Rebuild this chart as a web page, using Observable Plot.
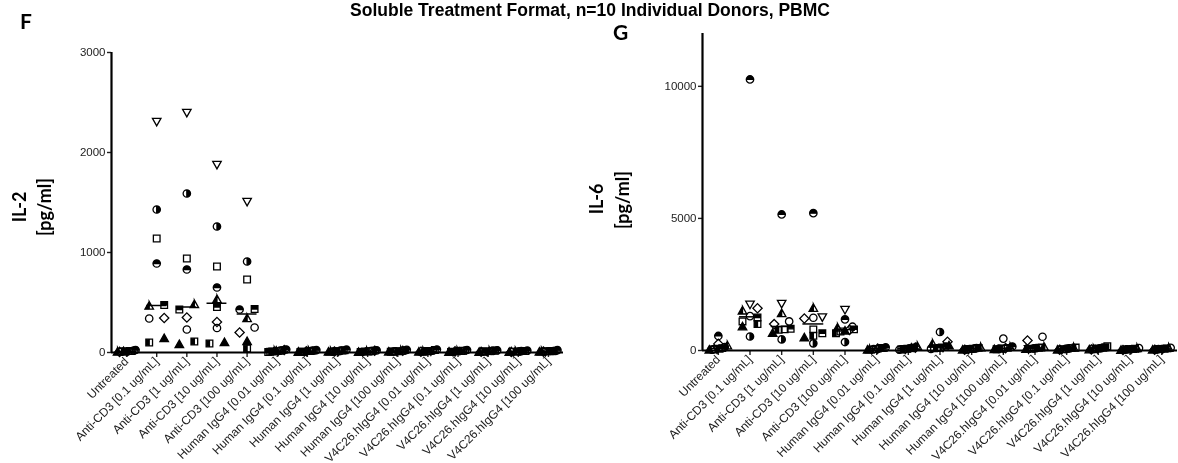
<!DOCTYPE html>
<html><head><meta charset="utf-8">
<script src="https://cdn.jsdelivr.net/npm/d3@7"></script>
<script src="https://cdn.jsdelivr.net/npm/@observablehq/plot@0.6"></script>
<style>
body{margin:0;background:#fff;}
#wrap{position:relative;width:1178px;height:463px;overflow:hidden;background:#fff;}
#wrap svg{position:absolute;top:0;will-change:transform;}
</style></head><body><div id="wrap"></div>
<script>
const title = "Soluble Treatment Format, n=10 Individual Donors, PBMC";
const categories = ["Untreated","Anti-CD3 [0.1 ug/mL]","Anti-CD3 [1 ug/mL]","Anti-CD3 [10 ug/mL]","Anti-CD3 [100 ug/mL]",
  "Human IgG4 [0.01 ug/mL]","Human IgG4 [0.1 ug/mL]","Human IgG4 [1 ug/mL]","Human IgG4 [10 ug/mL]","Human IgG4 [100 ug/mL]",
  "V4C26.hIgG4 [0.01 ug/mL]","V4C26.hIgG4 [0.1 ug/mL]","V4C26.hIgG4 [1 ug/mL]","V4C26.hIgG4 [10 ug/mL]","V4C26.hIgG4 [100 ug/mL]"];
const donors = ["Donor 1","Donor 2","Donor 3","Donor 4","Donor 5","Donor 6","Donor 7","Donor 8","Donor 9","Donor 10"];
// IL-2 [pg/ml], one row per category, one value per donor
const il2 = [
  [12, 8, 15, 25, 5, 10, 18, 6, 14, 9],
  [2310, 1430, 1140, 890, 465, 475, 340, 345, 100, 140],
  [2400, 1590, 940, 830, 480, 430, 230, 350, 110, 80],
  [1880, 1260, 860, 650, 530, 455, 245, 305, 90, 100],
  [1510, 910, 730, 430, 340, 435, 250, 200, 40, 110],
  [15, 22, 8, 30, 12, 5, 18, 25, 10, 14],
  [10, 18, 6, 24, 14, 8, 20, 12, 16, 4],
  [14, 9, 20, 28, 7, 12, 16, 10, 22, 5],
  [8, 16, 12, 22, 10, 6, 14, 18, 9, 3],
  [12, 20, 9, 26, 15, 7, 11, 17, 13, 6],
  [16, 11, 24, 30, 9, 14, 19, 8, 12, 5],
  [9, 14, 18, 25, 12, 6, 20, 11, 15, 4],
  [11, 17, 8, 21, 13, 10, 15, 7, 19, 3],
  [7, 12, 15, 19, 9, 11, 13, 6, 16, 2],
  [10, 15, 12, 23, 8, 13, 17, 9, 14, 5]
];
// IL-6 [pg/ml]
const il6 = [
  [60, 130, 40, 550, 180, 90, 30, 250, 70, 20],
  [1750, 530, 1100, 10260, 1500, 1250, 1300, 1600, 1000, 900],
  [1780, 420, 800, 5150, 1400, 820, 1100, 1000, 780, 650],
  [1270, 270, 800, 5200, 1600, 650, 1240, 1210, 560, 480],
  [1550, 320, 720, 1180, 850, 800, 900, 780, 650, 740],
  [40, 80, 60, 120, 30, 90, 50, 70, 100, 20],
  [60, 100, 40, 80, 150, 70, 30, 110, 50, 90],
  [120, 700, 80, 150, 250, 100, 60, 330, 90, 180],
  [50, 90, 70, 40, 110, 60, 80, 30, 100, 20],
  [80, 60, 100, 150, 120, 50, 450, 90, 70, 40],
  [60, 90, 110, 80, 130, 70, 520, 380, 100, 50],
  [40, 70, 90, 60, 100, 50, 80, 30, 110, 20],
  [70, 60, 160, 90, 50, 120, 80, 40, 100, 30],
  [50, 40, 70, 30, 80, 60, 90, 20, 45, 10],
  [60, 50, 80, 40, 90, 70, 100, 30, 55, 20]
];
const il2Ticks = [0, 1000, 2000, 3000];
const il6Ticks = [0, 5000, 10000];

// ---- custom Prism-like symbols (outer shape + opposite-wound hole for half fills)
const TAU = 2 * Math.PI;
const circ = (c, r) => { c.moveTo(r, 0); c.arc(0, 0, r, 0, TAU); c.closePath(); };
const sq = (c, h) => { c.moveTo(-h, -h); c.lineTo(h, -h); c.lineTo(h, h); c.lineTo(-h, h); c.closePath(); };
const triUp = (c, r) => { c.moveTo(0, -1.2 * r); c.lineTo(1.15 * r, 0.85 * r); c.lineTo(-1.15 * r, 0.85 * r); c.closePath(); };
const rad = (size) => Math.sqrt(size / Math.PI);
const symbolObjs = [
  {draw(c, s) { const r = rad(s); c.moveTo(-1.15 * r, -0.85 * r); c.lineTo(1.15 * r, -0.85 * r); c.lineTo(0, 1.2 * r); c.closePath(); }}, // open triangle down
  {draw(c, s) { const r = rad(s); circ(c, r); c.moveTo(0, -r); c.arc(0, 0, r, -Math.PI / 2, -3 * Math.PI / 2, true); c.closePath(); }}, // circle, right half filled
  {draw(c, s) { const r = rad(s); sq(c, 0.9 * r); }}, // open square
  {draw(c, s) { const r = rad(s); circ(c, r); c.moveTo(-r, 0); c.arc(0, 0, r, Math.PI, 0, true); c.closePath(); }}, // circle, top half filled
  {draw(c, s) { const r = rad(s); triUp(c, r); c.moveTo(0, -1.2 * r); c.lineTo(0, 0.85 * r); c.lineTo(1.15 * r, 0.85 * r); c.closePath(); }}, // triangle, left half filled
  {draw(c, s) { const r = rad(s), h = 0.9 * r; sq(c, h); c.moveTo(-h, 0); c.lineTo(-h, h); c.lineTo(h, h); c.lineTo(h, 0); c.closePath(); }}, // square, top half filled
  {draw(c, s) { const r = rad(s); circ(c, r); }}, // open circle
  {draw(c, s) { const r = rad(s) * 1.25; c.moveTo(0, -r); c.lineTo(r, 0); c.lineTo(0, r); c.lineTo(-r, 0); c.closePath(); }}, // open diamond
  {draw(c, s) { const r = rad(s), h = 0.9 * r; sq(c, h); c.moveTo(0, -h); c.lineTo(0, h); c.lineTo(h, h); c.lineTo(h, -h); c.closePath(); }}, // square, left half filled
  {draw(c, s) { const r = rad(s); triUp(c, r); }} // filled triangle
];
const donorFill = ["none", "black", "none", "black", "black", "black", "none", "none", "black", "black"];

// ---- column-scatter layout: points in the same "row" are spread symmetrically
const ROW_PX = 5, SPAN_PX = 18, GAP_PX = 15;
function swarm(values, pxPerUnit) {
  const idx = d3.range(values.length).sort((a, b) => values[a] - values[b]);
  const rows = []; let cur = null;
  for (const i of idx) {
    const ypx = values[i] * pxPerUnit;
    if (!cur || ypx - cur.start > ROW_PX) { cur = {start: ypx, items: []}; rows.push(cur); }
    cur.items.push(i);
  }
  const off = new Array(values.length).fill(0);
  for (const r of rows) {
    const n = r.items.length;
    const step = n > 1 ? Math.min(GAP_PX, SPAN_PX / (n - 1)) : 0;
    r.items.forEach((i, k) => off[i] = (k - (n - 1) / 2) * step);
  }
  return off;
}

function panel({values, yMax, yTicks, width, marginLeft, marginRight, marginTop, marginBottom, height}) {
  const innerH = height - marginTop - marginBottom;
  const innerW = width - marginLeft - marginRight;
  const n = categories.length;
  const bw = innerW / n;
  const xDomain = [-0.5, n - 0.5];
  const points = [];
  const medians = [];
  values.forEach((vals, ci) => {
    const off = swarm(vals, innerH / yMax);
    vals.forEach((v, di) => points.push({cat: ci, donor: donors[di], value: v, x: ci + off[di] / bw, fill: donorFill[di]}));
    medians.push({cat: ci, median: d3.median(vals)});
  });
  return Plot.plot({
    width, height, marginLeft, marginRight, marginTop, marginBottom,
    style: {fontFamily: "'Liberation Sans', Arial, sans-serif", background: "transparent", color: "#222", overflow: "visible"},
    x: {domain: xDomain},
    y: {domain: [0, yMax]},
    symbol: {domain: donors, range: symbolObjs},
    color: {type: "identity"},
    marks: [
      Plot.axisY({ticks: yTicks, tickFormat: d => String(d), tickSize: 4, tickPadding: 2, fontSize: 11.5, strokeWidth: 1.4, label: null}),
      Plot.axisX({ticks: d3.range(n), tickFormat: i => categories[i], tickRotate: -45, tickSize: 5, tickPadding: 2, fontSize: 12, strokeWidth: 1.4, label: null}),
      Plot.ruleY(medians, {y: "median", x1: d => d.cat - 0.33, x2: d => d.cat + 0.33, stroke: "black", strokeWidth: 1.5}),
      Plot.dot(points, {x: "x", y: "value", symbol: "donor", fill: "fill", stroke: "black", strokeWidth: 1.3, r: 3.7}),
      Plot.ruleY([0], {stroke: "black", strokeWidth: 2.2}),
      Plot.ruleX([xDomain[0]], {y1: 0, y2: yMax, stroke: "black", strokeWidth: 2.2})
    ]
  });
}

const wrap = document.getElementById("wrap");
const f = panel({values: il2, yMax: 3000, yTicks: il2Ticks, width: 590, height: 463, marginLeft: 111, marginRight: 27, marginTop: 52, marginBottom: 111});
f.style.left = "0px";
wrap.appendChild(f);
const g = panel({values: il6, yMax: 12000, yTicks: il6Ticks, width: 588, height: 463, marginLeft: 112, marginRight: 1, marginTop: 33, marginBottom: 113});
g.style.left = "590px";
wrap.appendChild(g);

// overlay texts: title, panel letters, y-axis titles
const ov = d3.select(wrap).append("svg").attr("width", 1178).attr("height", 463)
  .style("left", "0px").style("pointer-events", "none")
  .style("font-weight", "bold").attr("fill", "black");
ov.append("text").attr("x", 590).attr("y", 16).attr("text-anchor", "middle")
  .style("font-family", "'Liberation Sans', Arial, sans-serif").attr("font-size", 17.5).text(title);
const lato = "Lato, 'Open Sans', sans-serif";
ov.append("text").attr("x", 20).attr("y", 29).style("font-family", lato).attr("font-size", 21).text("F");
ov.append("text").attr("x", 613).attr("y", 40).style("font-family", lato).attr("font-size", 21).text("G");
const ylab = [["IL-2", 26, 207], ["[pg/ml]", 51, 207], ["IL-6", 603, 199], ["[pg/ml]", 629, 200]];
for (const [t, x, y] of ylab) {
  ov.append("text").attr("transform", `translate(${x},${y}) rotate(-90)`).attr("text-anchor", "middle")
    .style("font-family", lato).attr("font-size", 18).text(t);
}
</script></body></html>
